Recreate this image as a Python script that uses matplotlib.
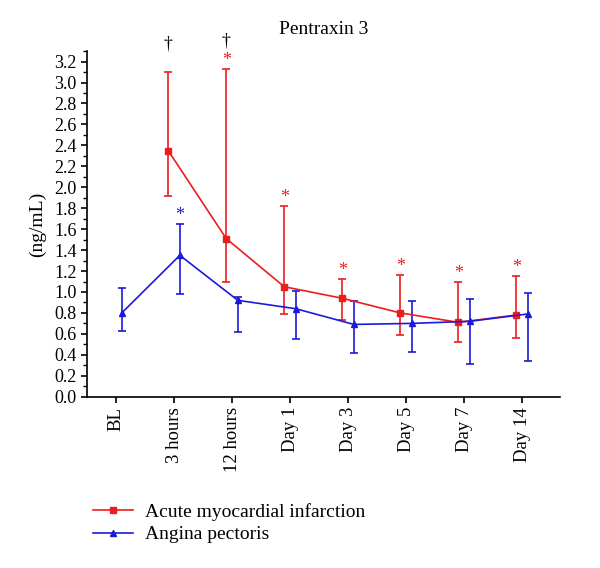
import numpy as np
import matplotlib.pyplot as plt
from matplotlib.lines import Line2D

plt.rcParams['font.family'] = ['Liberation Serif', 'DejaVu Serif']

times = ['BL', '3 hours', '12 hours', 'Day 1', 'Day 3', 'Day 5', 'Day 7', 'Day 14']

# acute myocardial infarction (no BL value)
ami_mean = [np.nan, 2.35, 1.51, 1.05, 0.94, 0.80, 0.71, 0.78]
ami_upper = [np.nan, 3.10, 3.13, 1.82, 1.12, 1.16, 1.10, 1.15]
ami_lower = [np.nan, 1.92, 1.10, 0.79, 0.73, 0.59, 0.52, 0.56]

# angina pectoris
ap_mean = [0.80, 1.35, 0.92, 0.84, 0.69, 0.70, 0.72, 0.79]
ap_upper = [1.04, 1.65, 0.95, 1.01, 0.91, 0.91, 0.93, 0.99]
ap_lower = [0.63, 0.98, 0.62, 0.55, 0.42, 0.43, 0.31, 0.34]

ami_star = [False, False, True, True, True, True, True, True]
ap_star = [False, True, False, False, False, False, False, False]
dagger = [False, True, True, False, False, False, False, False]

red = '#ee1c1c'
blue = '#1a1adc'

fig = plt.figure(figsize=(6, 5.68), dpi=100)
ax = fig.add_axes([0.145, 0.3016, 0.788, 0.6084])

x = np.arange(len(times))
off = 0.1
am = np.array(ami_mean)
ap = np.array(ap_mean)

ax.errorbar(x - off, am, yerr=[am - np.array(ami_lower), np.array(ami_upper) - am],
            color=red, marker='s', ms=5, lw=1.2, elinewidth=1.2,
            capsize=3, capthick=1.2, zorder=3)
ax.errorbar(x + off, ap, yerr=[ap - np.array(ap_lower), np.array(ap_upper) - ap],
            color=blue, marker='^', ms=5, lw=1.2, elinewidth=1.2,
            capsize=3, capthick=1.2, zorder=3)

for i in range(len(times)):
    if ami_star[i]:
        ax.annotate('*', (x[i] - off, ami_upper[i]), xytext=(0, 0), textcoords='offset points',
                    ha='center', va='bottom', color=red, fontsize=13, annotation_clip=False)
    if ap_star[i]:
        ax.annotate('*', (x[i] + off, ap_upper[i]), xytext=(0, 0), textcoords='offset points',
                    ha='center', va='bottom', color=blue, fontsize=13, annotation_clip=False)
    if dagger[i]:
        ax.annotate('\u2020', (x[i] - off, ami_upper[i]), xytext=(0, 20),
                    textcoords='offset points', ha='center', va='center',
                    fontsize=13, annotation_clip=False)

ax.set_xlim(-0.5, 7.65)
ax.set_ylim(0, 3.3)
ax.set_yticks(np.arange(0, 3.21, 0.2))
ax.set_yticks(np.arange(0, 3.31, 0.1), minor=True)
ax.set_yticklabels(['%.1f' % v for v in np.arange(0, 3.21, 0.2)], fontsize=13)
ax.set_xticks(x)
ax.set_xticklabels(times, rotation=90, fontsize=13.5)
ax.tick_params(axis='both', direction='out', length=4, width=1.2)
ax.tick_params(axis='y', which='minor', length=3, width=1)
for s in ['top', 'right']:
    ax.spines[s].set_visible(False)
for s in ['left', 'bottom']:
    ax.spines[s].set_linewidth(1.2)

ax.set_ylabel('(ng/mL)', fontsize=14, labelpad=6)
ax.set_title('Pentraxin 3', fontsize=14, pad=12)

handles = [Line2D([], [], color=red, marker='s', ms=5, lw=1.2),
           Line2D([], [], color=blue, marker='^', ms=5, lw=1.2)]
fig.legend(handles, ['Acute myocardial infarction', 'Angina pectoris'],
           loc='upper left', bbox_to_anchor=(0.125, 0.145), frameon=False,
           fontsize=14, handlelength=2.1, handletextpad=0.6, labelspacing=0.25)

fig.savefig('out.png', dpi=100)
